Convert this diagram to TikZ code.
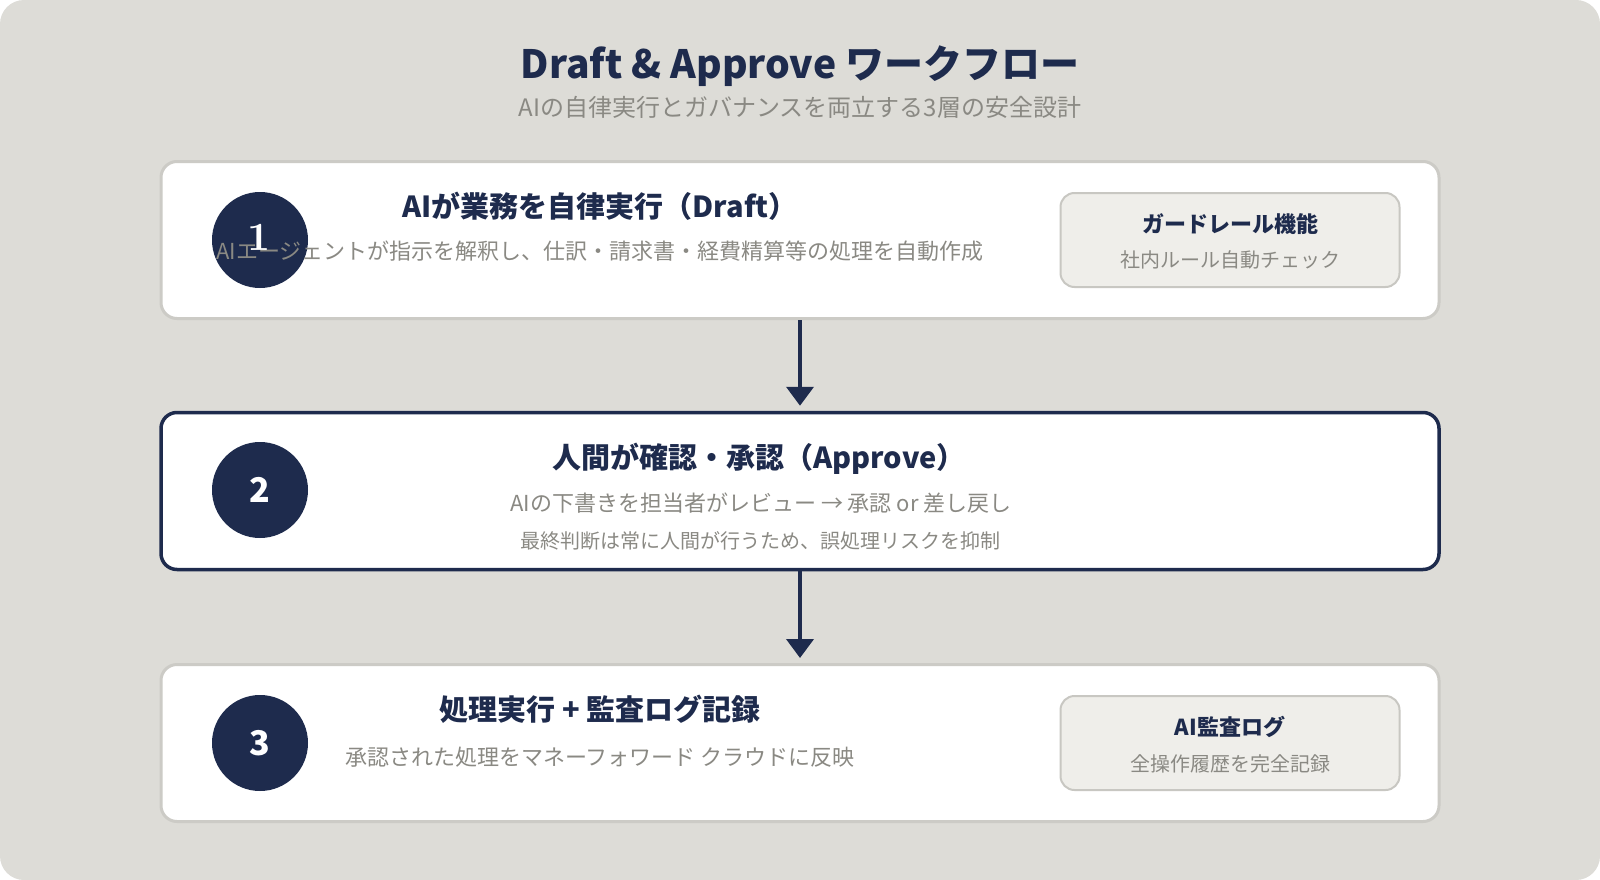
\documentclass[tikz,border=0pt]{standalone}
\usepackage{fontspec}
\setmainfont{Noto Sans CJK JP}
\newfontfamily\numserif{lmroman10-bold.otf}
\usetikzlibrary{arrows.meta}
\definecolor{navy}{HTML}{1E2B4D}
\definecolor{canvas}{HTML}{DDDCD7}
\definecolor{inkgray}{HTML}{8A8983}
\definecolor{edgegray}{HTML}{CCCBC6}
\definecolor{sidefill}{HTML}{EFEEEA}
\definecolor{sideedge}{HTML}{C8C7C2}

\begin{document}
\begin{tikzpicture} [x=1pt,y=-1pt,>={Triangle[width=27pt,length=19pt]},
		stage box/.style={draw=edgegray,line width=3pt,fill=white,rounded corners=16pt,
			minimum width=1278pt,minimum height=157pt,inner sep=0pt},
		side box/.style={draw=sideedge,line width=2pt,fill=sidefill,rounded corners=14pt,
			minimum width=339pt,minimum height=94pt,inner sep=0pt},
		num disc/.style={circle,fill=navy,minimum size=96pt,inner sep=0pt},
		num text/.style={text=white,font=\bfseries\fontsize{34}{40}\selectfont},
		head text/.style={text=navy,font=\bfseries\fontsize{29}{34}\selectfont,inner sep=0pt},
		desc text/.style={text=inkgray,font=\fontsize{22}{26}\selectfont,inner sep=0pt},
		note text/.style={text=inkgray,font=\fontsize{20}{24}\selectfont,inner sep=0pt},
		side title/.style={text=navy,font=\bfseries\fontsize{22}{26}\selectfont,inner sep=0pt},
		side text/.style={text=inkgray,font=\fontsize{20}{24}\selectfont,inner sep=0pt},
		flow/.style={draw=navy,fill=navy,line width=4pt,shorten >=5pt}]

			\useasboundingbox (0,0) rectangle (1600,880);
			\fill [white] (0,0) rectangle (1600,880);
			\fill [canvas, rounded corners=24pt] (0,0) rectangle (1600,880);

			\node [text=navy, font=\bfseries\fontsize{39}{46}\selectfont] (main-title) at (800,66) {Draft \& Approve ワークフロー};
			\node [text=inkgray, font=\fontsize{24}{28}\selectfont] (main-sub) at (800,107) {AIの自律実行とガバナンスを両立する3層の安全設計};

			% stage 1
			\node [stage box] (box-draft) at (800,240) {};
			\node [num disc] (disc-1) at (260,240) {};
			\node [head text] (head-draft) at (600,206) {AIが業務を自律実行（Draft）};
			\node [desc text] (desc-draft) at (600,251) {AIエージェントが指示を解釈し、仕訳・請求書・経費精算等の処理を自動作成};
			\node [text=white, font=\numserif\fontsize{40}{44}\selectfont, inner sep=0pt] (num-1) at (259,237) {1};
			\node [side box] (side-guard) at (1230,240) {};
			\node [side title] (side-guard-title) at (1230,224) {ガードレール機能};
			\node [side text] (side-guard-text) at (1230,260) {社内ルール自動チェック};

			% stage 2
			\node [stage box, draw=navy, line width=3.5pt] (box-approve) at (800,491) {}
				edge [flow, <-, shorten <=5pt, shorten >=0pt] (box-draft);
			\node [num disc] (disc-2) at (260,490) {};
			\node [num text] (num-2) at (260,490) {2};
			\node [head text] (head-approve) at (759,459) {人間が確認・承認（Approve）};
			\node [desc text] (desc-approve) at (761,503) {AIの下書きを担当者がレビュー → 承認 or 差し戻し};
			\node [note text] (note-approve) at (760,541) {最終判断は常に人間が行うため、誤処理リスクを抑制};

			% stage 3
			\node [stage box] (box-exec) at (800,743) {}
				edge [flow, <-, shorten <=5pt, shorten >=0pt] (box-approve);
			\node [num disc] (disc-3) at (260,743) {};
			\node [num text] (num-3) at (260,743) {3};
			\node [head text] (head-exec) at (600,709) {処理実行 + 監査ログ記録};
			\node [desc text] (desc-exec) at (600,757) {承認された処理をマネーフォワード クラウドに反映};
			\node [side box] (side-audit) at (1230,743) {};
			\node [side title] (side-audit-title) at (1230,727) {AI監査ログ};
			\node [side text] (side-audit-text) at (1230,764) {全操作履歴を完全記録};
		\end{tikzpicture}
\end{document}
